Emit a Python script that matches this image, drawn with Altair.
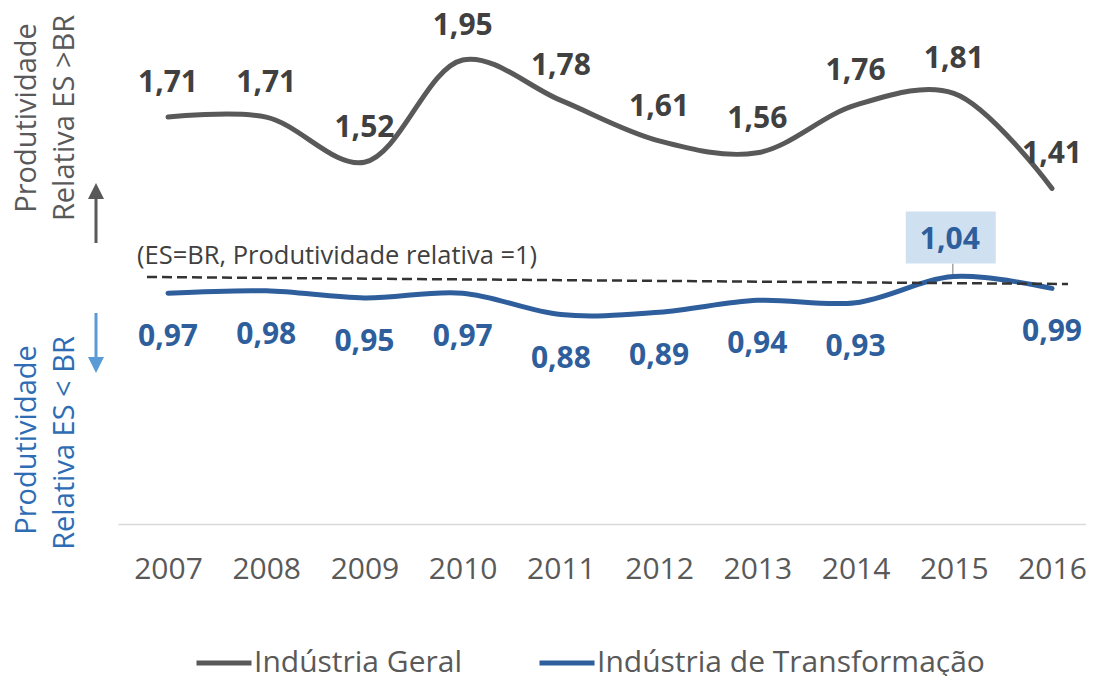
import altair as alt
import pandas as pd

# ---- data ----
years = [2007, 2008, 2009, 2010, 2011, 2012, 2013, 2014, 2015, 2016]
industria_geral = [1.71, 1.71, 1.52, 1.95, 1.78, 1.61, 1.56, 1.76, 1.81, 1.41]
industria_transf = [0.97, 0.98, 0.95, 0.97, 0.88, 0.89, 0.94, 0.93, 1.04, 0.99]
series_names = ["Indústria Geral", "Indústria de Transformação"]
highlight_year = 2015
ref_note = "(ES=BR, Produtividade relativa =1)"
upper_title = ["Produtividade", "Relativa ES >BR"]
lower_title = ["Produtividade", "Relativa ES < BR"]

# ---- styles ----
FONT = "Open Sans"
GRAY = "#595959"
GRAY_LABEL = "#404040"
BLUE = "#2E5E9C"
BLUE_TITLE = "#2E6DB4"
BLUE_ARROW = "#5B9BD5"
BOX = "#CFE0F1"

rows = []
for name, vals in zip(series_names, [industria_geral, industria_transf]):
    for yr, v in zip(years, vals):
        rows.append({"ano": yr, "valor": v, "serie": name,
                     "rotulo": f"{v:.2f}".replace(".", ",")})
df = pd.DataFrame(rows)
one = pd.DataFrame({"k": [0]})

x = alt.X("ano:Q",
          scale=alt.Scale(domain=[2006.4909, 2016.3462], nice=False, zero=False),
          axis=alt.Axis(values=years, format="d", title=None, grid=False, ticks=False,
                        tickSize=0, domainColor="#D9D9D9", domainWidth=1.5,
                        labelFont=FONT, labelFontSize=30, labelColor=GRAY,
                        labelPadding=45, labelBaseline="middle"))
y = alt.Y("valor:Q", scale=alt.Scale(domain=[0, 2.16], nice=False, zero=False), axis=None)

color = alt.Color("serie:N",
                  scale=alt.Scale(domain=series_names, range=[GRAY, BLUE]),
                  legend=alt.Legend(title=None, orient="none", legendX=76, legendY=623,
                                    direction="horizontal", symbolType="stroke",
                                    symbolSize=3025, symbolStrokeWidth=5,
                                    labelFont=FONT, labelFontSize=30, labelColor=GRAY,
                                    labelOffset=0, columnPadding=67, padding=0,
                                    labelLimit=600))

base = alt.Chart(df)

lines = base.mark_line(interpolate="catmull-rom", strokeWidth=5, strokeCap="round").encode(
    x=x, y=y, color=color)

geral_labels = base.transform_filter(alt.datum.serie == series_names[0]).mark_text(
    dy=-34, font=FONT, fontSize=30, fontWeight="bold", color=GRAY_LABEL
).encode(x=x, y=y, text="rotulo:N")

transf_labels = base.transform_filter(
    (alt.datum.serie == series_names[1]) & (alt.datum.ano != highlight_year)
).mark_text(dy=44, font=FONT, fontSize=30, fontWeight="bold", color=BLUE
).encode(x=x, y=y, text="rotulo:N")

hl = base.transform_filter(
    (alt.datum.serie == series_names[1]) & (alt.datum.ano == highlight_year))

hl_box = hl.mark_point(shape="M-1,-0.578L1,-0.578L1,0.578L-1,0.578Z", size=8100,
                       filled=True, color=BOX, opacity=1, strokeWidth=0,
                       xOffset=-3, yOffset=-39).encode(x=x, y=y)
hl_leader = hl.transform_calculate(topo="datum.valor + 0.054").mark_rule(
    color="#A6A6A6", strokeWidth=1.5, xOffset=-1).encode(x=x, y=y, y2="topo:Q")
hl_text = hl.mark_text(dy=-37, dx=-4, font=FONT, fontSize=30, fontWeight="bold",
                       color=BLUE).encode(x=x, y=y, text="rotulo:N")

ref_line = alt.Chart(one).mark_rule(color="#333333", strokeWidth=2.5,
                                    strokeDash=[10, 5]).encode(
    x=alt.value(29), x2=alt.value(950), y=alt.value(267), y2=alt.value(274))
ref_text = alt.Chart(one).mark_text(align="left", baseline="middle", font=FONT,
                                    fontSize=25.5, color=GRAY_LABEL).encode(
    x=alt.value(19), y=alt.value(246), text=alt.value(ref_note))


def vtitle(txt, px, py, col):
    return alt.Chart(one).mark_text(angle=270, align="center", baseline="middle",
                                    font=FONT, fontSize=29, color=col).encode(
        x=alt.value(px), y=alt.value(py), text=alt.value(txt))


titles = [
    vtitle(upper_title[0], -91, 108, GRAY),
    vtitle(upper_title[1], -53, 108, GRAY),
    vtitle(lower_title[0], -91, 430, BLUE_TITLE),
    vtitle(lower_title[1], -53, 433, BLUE_TITLE),
]

up_stem = alt.Chart(one).mark_rule(color=GRAY, strokeWidth=3).encode(
    x=alt.value(-22), y=alt.value(181), y2=alt.value(233))
up_head = alt.Chart(one).mark_point(shape="M0,-1L1,1L-1,1Z", size=256, filled=True,
                                    color=GRAY, opacity=1, strokeWidth=0).encode(
    x=alt.value(-22), y=alt.value(181))
down_stem = alt.Chart(one).mark_rule(color=BLUE_ARROW, strokeWidth=3).encode(
    x=alt.value(-22), y=alt.value(303), y2=alt.value(350))
down_head = alt.Chart(one).mark_point(shape="M0,1L1,-1L-1,-1Z", size=256, filled=True,
                                      color=BLUE_ARROW, opacity=1, strokeWidth=0).encode(
    x=alt.value(-22), y=alt.value(355))

chart = alt.layer(
    hl_box, hl_leader, lines, ref_line, ref_text, geral_labels, transf_labels, hl_text,
    *titles, up_stem, up_head, down_stem, down_head
).properties(
    width=968, height=514,
    padding={"left": 110, "top": 2, "right": 0, "bottom": 152},
    autosize=alt.AutoSizeParams(type="none"),
).configure_view(stroke=None)

chart.save("out.html", embed_options={"renderer": "svg", "actions": False})
